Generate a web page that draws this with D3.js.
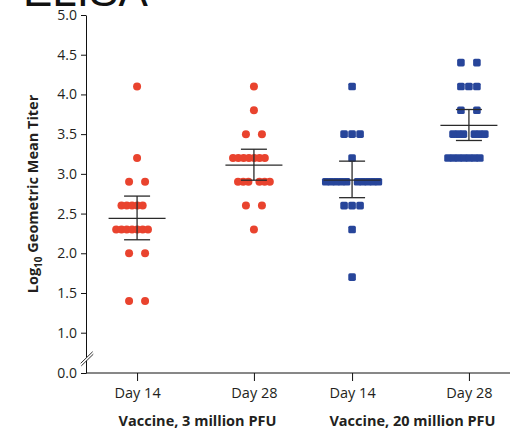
<!DOCTYPE html>
<html lang="en">
<head>
<meta charset="UTF-8">
<title>ELISA titers</title>
<script src="https://d3js.org/d3.v7.min.js"></script>
<style>
  body { margin: 0; background: #fff; }
  text { font-family: "Open Sans", "Noto Sans", sans-serif; fill: #231f20; }
</style>
</head>
<body>
<div id="chart"></div>
<script>
// doses and days
var doses = ["Vaccine, 3 million PFU", "Vaccine, 20 million PFU"];
var days = ["Day 14", "Day 28"];

// log10 titers per participant
var low14 = [4.1, 3.2, 2.9, 2.9, 2.6, 2.6, 2.6, 2.6, 2.6, 2.3, 2.3, 2.3, 2.3, 2.3, 2.3, 2.3, 2.0, 2.0, 1.4, 1.4];
var low28 = [4.1, 3.8, 3.5, 3.5, 3.2, 3.2, 3.2, 3.2, 3.2, 3.2, 3.2, 2.9, 2.9, 2.9, 2.9, 2.9, 2.9, 2.6, 2.6, 2.3];
var high14 = [4.1, 3.5, 3.5, 3.5, 3.2, 2.9, 2.9, 2.9, 2.9, 2.9, 2.9, 2.9, 2.9, 2.9, 2.9, 2.6, 2.6, 2.6, 2.3, 1.7];
var high28 = [4.4, 4.4, 4.1, 4.1, 4.1, 3.8, 3.8, 3.5, 3.5, 3.5, 3.5, 3.5, 3.5, 3.2, 3.2, 3.2, 3.2, 3.2, 3.2, 3.2];

// geometric mean and 95% CI
var gmt = [2.44, 3.11, 2.92, 3.61];
var ciLow = [2.17, 2.92, 2.70, 3.42];
var ciHigh = [2.72, 3.31, 3.16, 3.81];

var yTicks = [0, 1.0, 1.5, 2.0, 2.5, 3.0, 3.5, 4.0, 4.5, 5.0];

var sets = [
  {dose: doses[0], day: days[0], values: low14, shape: "circle"},
  {dose: doses[0], day: days[1], values: low28, shape: "circle"},
  {dose: doses[1], day: days[0], values: high14, shape: "square"},
  {dose: doses[1], day: days[1], values: high28, shape: "square"}
];
sets.forEach(function(s, i) { s.mean = gmt[i]; s.lo = ciLow[i]; s.hi = ciHigh[i]; });

var width = 510, height = 432;
var svg = d3.select("#chart").append("svg")
  .attr("width", width).attr("height", height);

// y: broken axis, 0 then 1..5
var y = d3.scaleLinear().domain([0, 1, 5]).range([373, 332.7, 15]);

var xDose = d3.scaleBand().domain(doses).range([88, 518]);
var xDay = d3.scalePoint().domain(days).range([0, xDose.bandwidth()]).padding(0.42);
function xc(s) { return xDose(s.dose) + xDay(s.day); }

var red = "#e9432e", blue = "#27459a";

// title (cropped at top)
svg.append("text")
  .attr("x", 23).attr("y", 6)
  .style("font-family", "Liberation Sans, Arial, sans-serif")
  .style("font-size", "44px")
  .style("fill", "#111")
  .text("ELISA");

// y axis
var yAxis = svg.append("g")
  .attr("transform", "translate(86,0)")
  .call(d3.axisLeft(y).tickValues(yTicks).tickFormat(d3.format(".1f")).tickSize(5).tickSizeOuter(0));
yAxis.selectAll("text").style("font-size", "14px").attr("dx", "-1px");
yAxis.selectAll("line, path").attr("stroke", "#111");

// axis break
var brk = svg.append("g");
brk.append("polygon")
  .attr("points", "80.7,363.3 92.7,351.7 93.3,354 81.3,365.7")
  .attr("fill", "#fff");
brk.append("line").attr("x1", 80.7).attr("y1", 363.3).attr("x2", 92.7).attr("y2", 351.7).attr("stroke", "#333");
brk.append("line").attr("x1", 81.3).attr("y1", 365.9).attr("x2", 93.3).attr("y2", 354.2).attr("stroke", "#333");

// x axis
svg.append("line")
  .attr("x1", 86).attr("x2", 510).attr("y1", 373).attr("y2", 373)
  .attr("stroke", "#111");
doses.forEach(function(d) {
  var g = svg.append("g")
    .attr("transform", "translate(" + xDose(d) + ",373)")
    .call(d3.axisBottom(xDay).tickSize(8).tickSizeOuter(0));
  g.select(".domain").remove();
  g.selectAll("line").attr("stroke", "#111");
  g.selectAll("text").style("font-size", "14.5px").attr("dy", "0.95em");
  svg.append("text")
    .attr("x", xDose(d) + xDose.bandwidth() / 2 + 2)
    .attr("y", 426)
    .attr("text-anchor", "middle")
    .style("font-size", "14.5px")
    .style("font-weight", "bold")
    .text(d);
});

// y label
var yl = svg.append("text")
  .attr("transform", "translate(38,194) rotate(-90)")
  .attr("text-anchor", "middle")
  .style("font-size", "14.5px")
  .style("font-weight", "bold");
yl.append("tspan").text("Log");
yl.append("tspan").attr("dy", 4).style("font-size", "10px").text("10");
yl.append("tspan").attr("dy", -4).text(" Geometric Mean Titer");

// row layout for tied values
function offsets(n) {
  var out = [], k;
  if (n === 1) return [0];
  if (n === 2) return [-8, 8];
  if (n === 3) return [-8, 0, 8];
  if (n % 2) {
    for (k = 0; k < n; k++) out.push(-5 + (k - (n - 1) / 2) * 5.3);
  } else {
    for (k = 0; k < n / 2; k++) { out.push(-5.5 - 5.2 * k); out.push(5.5 + 5.2 * k); }
  }
  return out;
}

sets.forEach(function(s) {
  var cx = xc(s);
  var rows = d3.group(s.values, function(v) { return v; });
  var pts = [];
  rows.forEach(function(arr, v) {
    offsets(arr.length).forEach(function(o) { pts.push({v: v, x: cx + o}); });
  });
  var g = svg.append("g");
  if (s.shape === "circle") {
    g.selectAll("circle").data(pts).join("circle")
      .attr("cx", function(d) { return d.x; })
      .attr("cy", function(d) { return y(d.v); })
      .attr("r", 4)
      .attr("fill", red);
  } else {
    g.selectAll("rect").data(pts).join("rect")
      .attr("x", function(d) { return d.x - 3.8; })
      .attr("y", function(d) { return y(d.v) - 3.8; })
      .attr("width", 7.6).attr("height", 7.6)
      .attr("rx", 1.6)
      .attr("fill", blue);
  }

  // mean and CI
  var e = svg.append("g").attr("stroke", "#2a2a2a").attr("stroke-width", 1.3);
  e.append("line").attr("x1", cx - 28.5).attr("x2", cx + 28.5)
    .attr("y1", y(s.mean)).attr("y2", y(s.mean));
  e.append("line").attr("x1", cx).attr("x2", cx)
    .attr("y1", y(s.lo)).attr("y2", y(s.hi));
  e.append("line").attr("x1", cx - 13).attr("x2", cx + 13)
    .attr("y1", y(s.hi)).attr("y2", y(s.hi));
  e.append("line").attr("x1", cx - 13).attr("x2", cx + 13)
    .attr("y1", y(s.lo)).attr("y2", y(s.lo));
});
</script>
</body>
</html>
